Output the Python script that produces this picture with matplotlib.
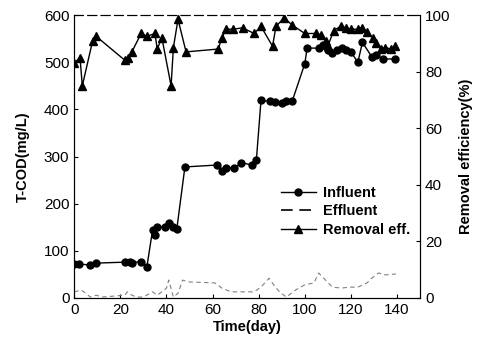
import matplotlib
matplotlib.use("Agg")
import matplotlib.pyplot as plt

plt.rcParams['font.family'] = ['Liberation Sans', 'DejaVu Sans']

# Influent T-COD (mg/L)
inf_day = [0, 2, 7, 9.5, 22, 24, 25, 29, 31.5, 34, 35, 36, 39.5, 41, 43, 44.5,
           48, 62, 64, 66, 69.5, 72.5, 77, 79, 81, 85, 87, 90, 92, 94.5,
           100, 101, 106, 108, 110, 112, 114, 116, 118, 120, 123, 125, 129, 131, 134, 139]
inf_val = [72, 72, 70, 74, 76, 77, 75, 77, 66, 145, 134, 151, 151, 160, 151, 147,
           278, 282, 270, 276, 276, 287, 282, 293, 419, 417, 415, 413, 417, 417,
           497, 530, 530, 537, 525, 520, 527, 530, 527, 522, 500, 542, 512, 515, 507, 507]

# Effluent T-COD (mg/L)
eff_day = [0, 3, 5, 7, 9.5, 12, 22, 23, 25, 27, 30, 34, 36, 38, 40, 41, 43, 45, 47,
           50, 61, 64, 68, 72, 78, 81, 84.5, 86.5, 89, 92, 96, 100, 104, 106, 109,
           112, 116, 119, 123, 127, 129, 132, 135, 139.5]
eff_val = [13, 17, 10, 2, 6, 2, 6, 13, 6, 2, 2, 13, 6, 13, 21, 38, 2, 10, 38,
           34, 32, 21, 13, 13, 13, 23, 42, 28, 13, 2, 17, 28, 32, 53, 38,
           23, 21, 23, 23, 32, 42, 53, 49, 51]

# Removal efficiency (%)
rem_day = [0, 2.5, 3.5, 8, 9.5, 22, 23.5, 25, 29, 31.5, 35, 36, 38, 42, 43, 45, 48.5,
           62.5, 64, 66, 69, 73, 78, 81, 86, 87.5, 91, 94.5, 100, 105, 107, 109, 110,
           112.5, 115.5, 118, 120, 123, 125, 127, 129.5, 131, 133, 135, 137.5, 139]
rem_val = [83, 85, 75, 91, 92.5, 84, 85, 87, 93.5, 92.5, 93.5, 88, 92, 75, 88.5, 98.5, 87,
           88, 92, 95, 95, 95.5, 93.5, 96, 89, 96, 99, 96.5, 93.5, 93.5, 93, 91, 89,
           94.5, 96, 95.5, 95, 95, 95.5, 94, 92, 90, 88, 88.5, 88, 89]

fig = plt.figure(figsize=(4.79, 3.51), dpi=100)
ax = fig.add_axes([0.155, 0.151, 0.722, 0.806])
ax2 = ax.twinx()

h1, = ax.plot(inf_day, inf_val, color='black', lw=1, marker='o', ms=5, label='Influent')
h2, = ax.plot(eff_day, eff_val, color='0.5', lw=0.8, linestyle=(0, (4, 3)), label='Effluent')
h3, = ax2.plot(rem_day, rem_val, color='black', lw=1, marker='^', ms=5.5, label='Removal eff.')

ax.set_xlim(0, 150)
ax.set_ylim(0, 600)
ax2.set_ylim(0, 100)
ax.set_xticks(range(0, 141, 20))
ax.set_yticks(range(0, 601, 100))
ax2.set_yticks(range(0, 101, 20))

for a in (ax, ax2):
    a.tick_params(direction='in', length=3, labelsize=11)
    a.spines['top'].set_linestyle((0, (8, 4)))

ax.set_xlabel('Time(day)', fontsize=10.5, fontweight='bold', labelpad=2)
ax.set_ylabel('T-COD(mg/L)', fontsize=10.5, fontweight='bold', labelpad=10)
ax2.set_ylabel('Removal efficiency(%)', fontsize=10.5, fontweight='bold', labelpad=6)

leg = ax.legend(handles=[h1, h2, h3], loc='lower right', bbox_to_anchor=(1.01, 0.17),
                frameon=False, prop={'weight': 'bold', 'size': 10.5},
                handlelength=2.4, labelspacing=0.3, handletextpad=0.5)
eff_handle = leg.get_lines()[1]
eff_handle.set_color('black')
eff_handle.set_linewidth(1.2)
eff_handle.set_linestyle((0, (7, 4)))

fig.savefig('out.png', dpi=100)
